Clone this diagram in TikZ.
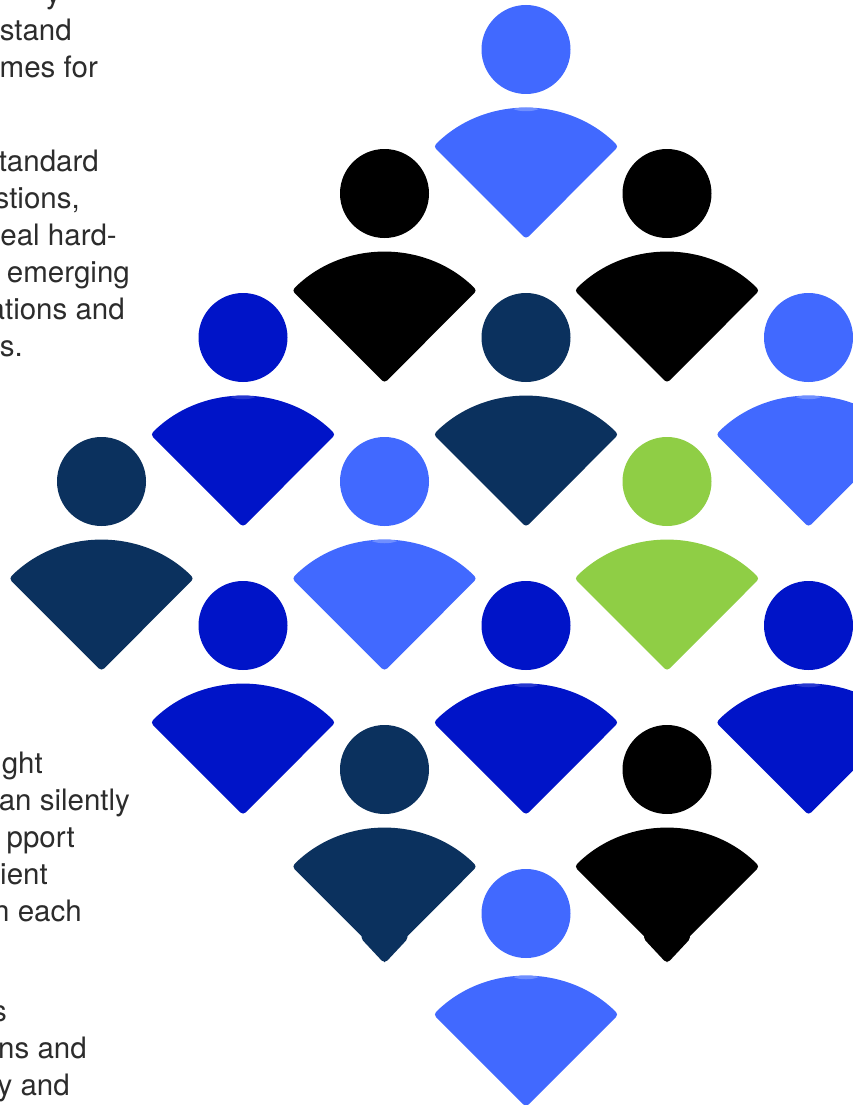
\documentclass[tikz,border=0pt]{standalone}
\usepackage{fontspec}
\setmainfont{TeX Gyre Heros}
\definecolor{cblue}{HTML}{4169FF}
\definecolor{cdark}{HTML}{0014C8}
\definecolor{cnavy}{HTML}{0B315E}
\definecolor{cgreen}{HTML}{8FCE45}
\definecolor{ctext}{HTML}{2C2C2C}
\tikzset{
  bodyshape/.style={rounded corners=3.5pt},
  txt/.style={anchor=base east,inner sep=0pt,text=ctext,font=\fontsize{29.5}{34}\selectfont},
}
% #1 x, #2 head centre y, #3 sharp apex y, #4 colour
\newcommand{\psn}[4]{%
  \fill[#4] (#1,-#2) circle[radius=44.5];
  \begin{scope}[shift={(#1,-#3)}]
    \fill[#4,bodyshape] (0,0) -- (-92.5,92.5) arc[start angle=135,end angle=45,radius=130.8] -- cycle;
  \end{scope}}
% pale lens at the top of the body
\newcommand{\lens}[3]{%
  \begin{scope}[shift={(#1,-#2)}]
    \fill[#3] (-13,130) .. controls (-6,132) and (6,132) .. (13,130) .. controls (6,127) and (-6,127) .. (-13,130) -- cycle;
  \end{scope}}
% small foot near the tip
\newcommand{\foot}[3]{%
  \begin{scope}[shift={(#1,-#2)}]
    \fill[#3,rounded corners=2pt] (-23,24) -- (-23,20) -- (-1.5,-3) -- (1.5,-3) -- (23,20) -- (23,24) -- cycle;
  \end{scope}}
\begin{document}
\begin{tikzpicture}[x=1pt,y=1pt]
\useasboundingbox (0,-1105) rectangle (853,0);
\clip (0,-1105) rectangle (853,0);
\fill[white] (0,-1105) rectangle (853,0);
\psn{526}{49.5}{239}{cblue}
\psn{384.5}{193.5}{383}{black}
\psn{667}{193.5}{383}{black}
\psn{243}{337.5}{527}{cdark}
\psn{526}{337.5}{527}{cnavy}
\psn{808.5}{337.5}{527}{cblue}
\psn{101.5}{481.5}{671}{cnavy}
\psn{384.5}{481.5}{671}{cblue}
\psn{667}{481.5}{671}{cgreen}
\psn{243}{625.5}{815}{cdark}
\psn{526}{625.5}{815}{cdark}
\psn{808.5}{625.5}{815}{cdark}
\psn{384.5}{769.5}{959}{cnavy}
\psn{667}{769.5}{959}{black}
\psn{526}{913.5}{1107}{cblue}
\foot{384.5}{959}{cnavy}
\foot{667}{959}{black}
\lens{526}{239}{cblue!75!white}
\lens{243}{527}{cdark!85!white}
\lens{808.5}{527}{cblue!75!white}
\lens{384.5}{671}{cblue!75!white}
\lens{526}{815}{cdark!85!white}
\lens{808.5}{815}{cdark!85!white}
\lens{526}{1107}{cblue!75!white}
\node[txt] (t0) at (61,-4) {y};
\node[txt] (t1) at (72,-41) {stand};
\node[txt] (t2) at (98,-78) {mes for};
\node[txt] (t3) at (99,-171) {tandard};
\node[txt] (t4) at (80,-208) {stions,};
\node[txt] (t5) at (117,-245) {eal hard-};
\node[txt] (t6) at (130,-282) {emerging};
\node[txt] (t7) at (125,-319) {ations and};
\node[txt] (t8) at (23,-356) {ts.};
\node[txt] (t9) at (43,-773) {ght};
\node[txt] (t10) at (130,-810) {an silently};
\node[txt] (t11) at (75,-847) {pport};
\node[txt] (t12) at (48,-884) {ient};
\node[txt] (t13) at (82,-921) {n each};
\node[txt] (t14) at (7,-1021) {s};
\node[txt] (t15) at (87,-1058) {ns and};
\node[txt] (t16) at (70,-1095) {y and};
\end{tikzpicture}
\end{document}
